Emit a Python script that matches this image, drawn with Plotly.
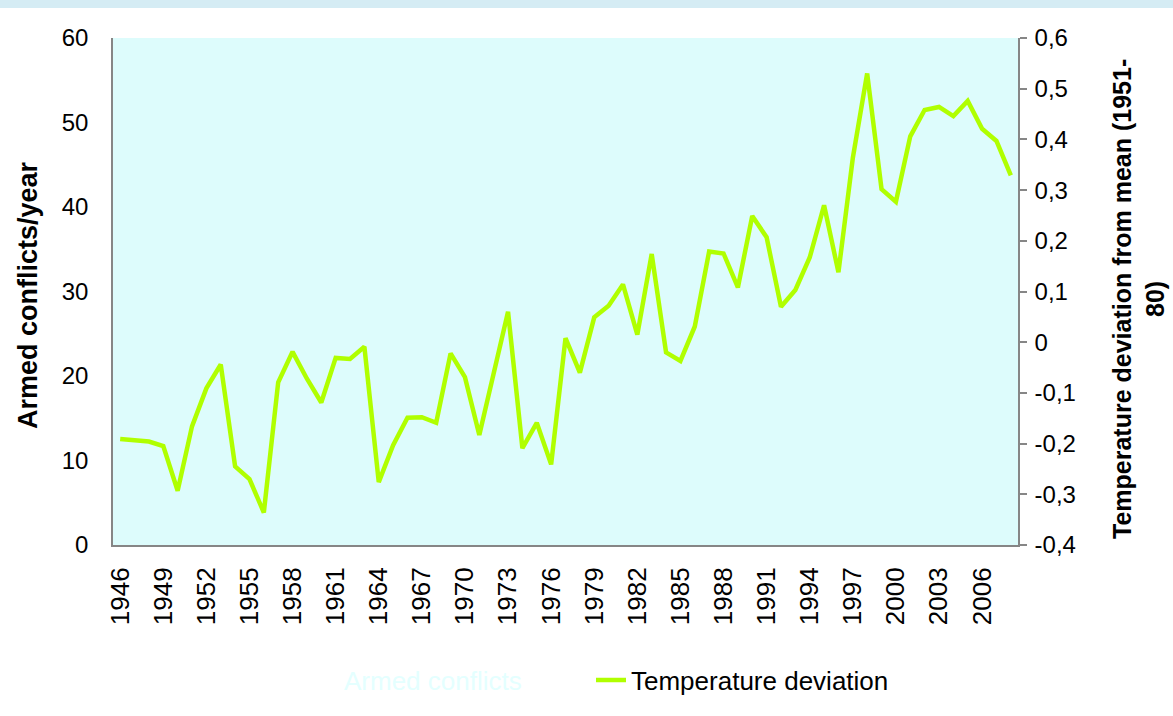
import plotly.graph_objects as go

years = [str(y) for y in range(1946, 2009)]
temperature_deviation = [
    -0.191, -0.193, -0.196, -0.205, -0.293, -0.166, -0.091, -0.044, -0.245, -0.270,
    -0.336, -0.079, -0.019, -0.072, -0.119, -0.031, -0.033, -0.009, -0.276, -0.203,
    -0.149, -0.148, -0.159, -0.022, -0.069, -0.183, -0.066, 0.060, -0.209, -0.159,
    -0.241, 0.008, -0.060, 0.049, 0.072, 0.114, 0.015, 0.174, -0.020, -0.037,
    0.031, 0.179, 0.175, 0.108, 0.249, 0.207, 0.070, 0.103, 0.167, 0.270,
    0.138, 0.363, 0.530, 0.302, 0.277, 0.406, 0.458, 0.464, 0.446, 0.476,
    0.421, 0.397, 0.329,
]
armed_conflicts = [None] * len(years)  # series not visible in the reference

x_tick_labels = years[::3]
left_ticks = [0, 10, 20, 30, 40, 50, 60]
right_tickvals = [-0.4, -0.3, -0.2, -0.1, 0, 0.1, 0.2, 0.3, 0.4, 0.5, 0.6]
right_ticktext = ["-0,4", "-0,3", "-0,2", "-0,1", "0", "0,1", "0,2", "0,3", "0,4", "0,5", "0,6"]

FONT = "Liberation Sans, Arial, sans-serif"
GREEN = "#b0ff00"
AXIS = "#868686"
BG = "#ddfcfc"

fig = go.Figure()
fig.add_trace(go.Scatter(
    x=years, y=armed_conflicts, mode="lines", name="Armed conflicts",
    line=dict(color="rgba(255,255,255,0)", width=4), yaxis="y", hoverinfo="skip",
    legend="legend",
))
fig.add_trace(go.Scatter(
    x=years, y=temperature_deviation, mode="lines", name="Temperature deviation",
    line=dict(color=GREEN, width=4.5), yaxis="y2", legend="legend2",
))

legend_common = dict(
    orientation="h", yanchor="middle", y=(545 - 680) / 507, xanchor="left",
    bgcolor="rgba(0,0,0,0)",
)

fig.update_layout(
    width=1173, height=716,
    margin=dict(l=113, r=155, t=38, b=171, autoexpand=False),
    paper_bgcolor="white",
    plot_bgcolor=BG,
    font=dict(family=FONT, color="black"),
    showlegend=True,
    legend=dict(legend_common, x=(304 - 113) / 905,
                font=dict(size=26, family=FONT, color="#e4ffff")),
    legend2=dict(legend_common, x=(591 - 113) / 905,
                 font=dict(size=26, family=FONT, color="black")),
    xaxis=dict(
        type="category", categoryorder="array", categoryarray=years,
        range=[-0.5, len(years) - 0.5],
        tickmode="array", tickvals=x_tick_labels, ticktext=x_tick_labels,
        tickangle=-90, tickfont=dict(size=26, family=FONT, color="black"),
        ticks="", ticklabelstandoff=10,
        showline=True, linecolor=AXIS, linewidth=2, showgrid=False, zeroline=False,
    ),
    yaxis=dict(
        range=[0, 60], tickmode="array", tickvals=left_ticks,
        tickfont=dict(size=24, family=FONT, color="black"),
        ticks="", ticklabelstandoff=18,
        showline=True, linecolor=AXIS, linewidth=1.5, showgrid=False, zeroline=False,
    ),
    yaxis2=dict(
        overlaying="y", side="right", range=[-0.4, 0.6],
        tickmode="array", tickvals=right_tickvals, ticktext=right_ticktext,
        tickfont=dict(size=24, family=FONT, color="black"),
        ticks="outside", ticklen=7, tickcolor=AXIS, tickwidth=1.5, ticklabelstandoff=3,
        showline=True, linecolor=AXIS, linewidth=1.5, showgrid=False, zeroline=False,
    ),
    shapes=[dict(
        type="rect", xref="paper", yref="paper",
        x0=-113 / 905, x1=(1173 - 113) / 905, y0=1 + 30 / 507, y1=1 + 38 / 507,
        fillcolor="#d5ecf4", line=dict(width=0), layer="below",
    )],
    annotations=[
        dict(
            text="<b>Armed conflicts/year</b>", xref="paper", yref="paper",
            x=(28 - 113) / 905, y=(545 - 295) / 507, xanchor="center", yanchor="middle",
            textangle=-90, showarrow=False, font=dict(size=27, family=FONT, color="black"),
        ),
        dict(
            text="<b>Temperature deviation from mean (1951-<br>80)</b>", xref="paper", yref="paper",
            x=(1138 - 113) / 905, y=(545 - 299) / 507, xanchor="center", yanchor="middle",
            textangle=-90, showarrow=False, font=dict(size=25, family=FONT, color="black"),
        ),
    ],
)

fig.write_html("out.html", config={"displayModeBar": False},
               post_script="document.body.style.margin='0px';")
